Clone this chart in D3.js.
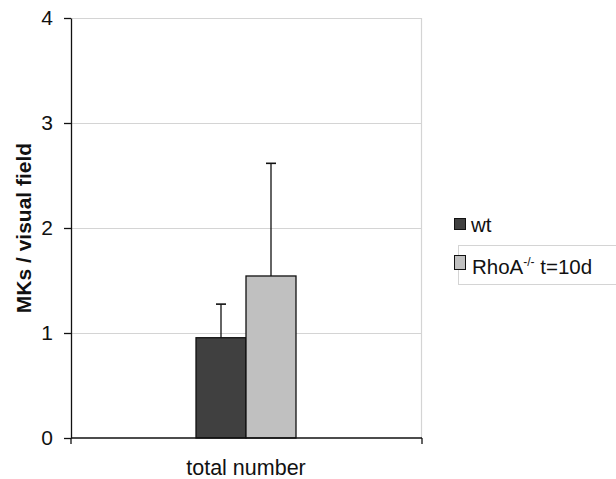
<!DOCTYPE html>
<html>
<head>
<meta charset="utf-8">
<script src="https://cdn.jsdelivr.net/npm/d3@7"></script>
<style>
  html, body { margin: 0; padding: 0; background: #fff; }
  svg { display: block; font-family: "Liberation Sans", Arial, sans-serif; }
</style>
</head>
<body>
<svg id="chart" width="616" height="479"></svg>
<script>
// Megakaryocytes per visual field, mean with upward SD bar
const categories = ["total number"];
const seriesNames = ["wt", "RhoA t=10d"];
const seriesColors = ["#404040", "#c0c0c0"];
const means = [0.955, 1.543];
const errors = [0.32, 1.073];
const yTicks = [0, 1, 2, 3, 4];

const svg = d3.select("#chart");
const m = { left: 71, right: 195, top: 18, bottom: 41 };
const W = 616, H = 479;
const x0 = m.left, x1 = W - m.right;
const yTop = m.top, yBot = H - m.bottom;
const FONT = "Liberation Sans, Arial, sans-serif";

const y = d3.scaleLinear().domain([0, 4]).range([yBot, yTop]);
const xBand = d3.scaleBand().domain(categories).range([x0, x1]);
const xInner = d3.scaleBand().domain(seriesNames)
  .range([0, xBand.bandwidth()]).paddingOuter(2.5).paddingInner(0);

// horizontal gridlines
svg.append("g").selectAll("line").data(yTicks.filter(d => d > 0)).join("line")
  .attr("x1", x0).attr("x2", x1)
  .attr("y1", d => Math.round(y(d)) + 0.5).attr("y2", d => Math.round(y(d)) + 0.5)
  .attr("stroke", "#d4d4d4").attr("stroke-width", 1.2);
// right frame edge
svg.append("line").attr("x1", x1 + 0.5).attr("x2", x1 + 0.5)
  .attr("y1", yTop).attr("y2", yBot).attr("stroke", "#d4d4d4").attr("stroke-width", 1.2);

// bars
const g = svg.append("g").attr("transform", `translate(${xBand(categories[0])},0)`);
g.selectAll("rect").data(seriesNames).join("rect")
  .attr("x", d => xInner(d))
  .attr("width", xInner.bandwidth())
  .attr("y", (d, i) => y(means[i]))
  .attr("height", (d, i) => yBot - y(means[i]))
  .attr("fill", (d, i) => seriesColors[i])
  .attr("stroke", "#111").attr("stroke-width", 1.3);

// error bars (upper only)
seriesNames.forEach((s, i) => {
  const cx = xInner(s) + xInner.bandwidth() / 2;
  g.append("line").attr("x1", cx).attr("x2", cx)
    .attr("y1", y(means[i])).attr("y2", y(means[i] + errors[i]))
    .attr("stroke", "#111").attr("stroke-width", 1.3);
  g.append("line").attr("x1", cx - 5).attr("x2", cx + 5)
    .attr("y1", y(means[i] + errors[i])).attr("y2", y(means[i] + errors[i]))
    .attr("stroke", "#111").attr("stroke-width", 1.6);
});

// y axis
const yAxis = svg.append("g").attr("transform", `translate(${x0},0)`)
  .call(d3.axisLeft(y).tickValues(yTicks).tickFormat(d3.format("d"))
    .tickSize(7).tickSizeOuter(0).tickPadding(11));
yAxis.select(".domain").attr("stroke", "#111").attr("stroke-width", 1.3);
yAxis.selectAll(".tick line").attr("stroke", "#111").attr("stroke-width", 1.3);
yAxis.selectAll(".tick text").attr("font-size", 21).attr("fill", "#111")
  .attr("font-family", FONT);

// x axis with boundary ticks
svg.append("line").attr("x1", x0).attr("x2", x1 + 1).attr("y1", yBot).attr("y2", yBot)
  .attr("stroke", "#111").attr("stroke-width", 1.6);
svg.selectAll(".xtick").data([x0, x1 + 1]).join("line").attr("class", "xtick")
  .attr("x1", d => d).attr("x2", d => d).attr("y1", yBot).attr("y2", yBot + 6)
  .attr("stroke", "#111").attr("stroke-width", 1.3);
svg.append("text").attr("x", xBand(categories[0]) + xBand.bandwidth() / 2).attr("y", 475)
  .attr("text-anchor", "middle").attr("font-size", 21.5).attr("fill", "#111")
  .text(categories[0]);

// y axis title
svg.append("text").attr("transform", `translate(31,${(yTop + yBot) / 2}) rotate(-90)`)
  .attr("text-anchor", "middle").attr("font-size", 21).attr("font-weight", "bold")
  .attr("fill", "#111").text("MKs / visual field");

// legend
const lg = svg.append("g");
lg.append("rect").attr("x", 458.5).attr("y", 245.5).attr("width", 170).attr("height", 39)
  .attr("fill", "none").attr("stroke", "#d4d4d4");
const legendY = [218, 255];
seriesNames.forEach((s, i) => {
  lg.append("rect").attr("x", 454.5).attr("y", legendY[i] + 0.5)
    .attr("width", 11).attr("height", i === 0 ? 11 : 14)
    .attr("fill", seriesColors[i]).attr("stroke", "#111").attr("stroke-width", 1);
});
lg.append("text").attr("x", 471).attr("y", 232).attr("font-size", 20.5).attr("fill", "#111").text("wt");
const t2 = lg.append("text").attr("x", 472).attr("y", 274).attr("font-size", 20.5).attr("fill", "#111");
t2.append("tspan").text("RhoA");
t2.append("tspan").attr("font-size", 12).attr("dy", -8).text("-/-");
t2.append("tspan").attr("dy", 8).text(" t=10d");
</script>
</body>
</html>
